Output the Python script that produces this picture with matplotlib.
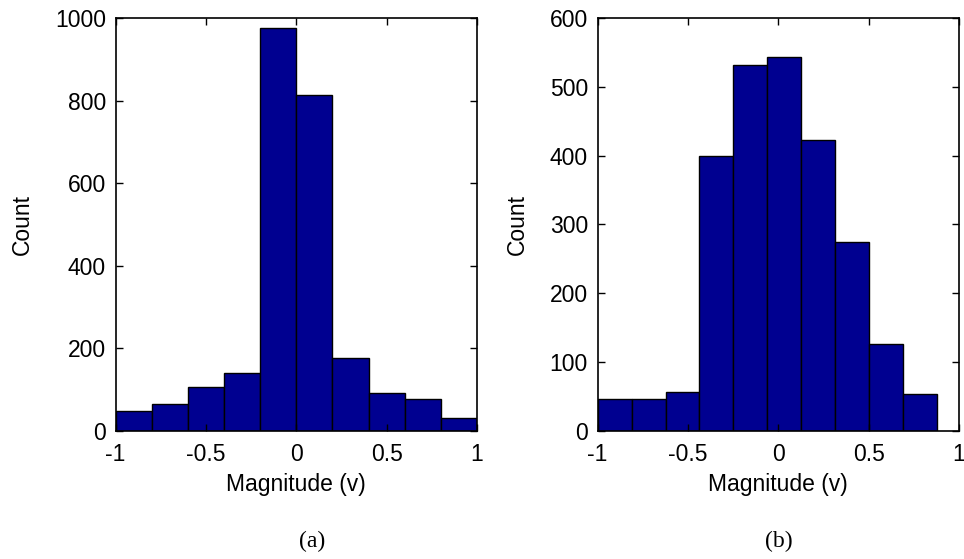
import numpy as np
import matplotlib
matplotlib.use("Agg")
import matplotlib.pyplot as plt

# Histogram counts per bin (10 equal bins each)
counts_a = [48, 64, 106, 140, 976, 815, 177, 92, 78, 30]
range_a = (-1.0, 1.0)
counts_b = [46, 46, 57, 400, 532, 543, 423, 275, 126, 54]
range_b = (-1.0, 0.878)

xticks = [-1, -0.5, 0, 0.5, 1]
xticklabels = ["-1", "-0.5", "0", "0.5", "1"]
yticks_a = [0, 200, 400, 600, 800, 1000]
yticks_b = [0, 100, 200, 300, 400, 500, 600]
captions = ["(a)", "(b)"]

BAR_COLOR = "#000090"
SANS = "Liberation Sans"
SERIF = "Liberation Serif"
FS = 16.5

fig = plt.figure(figsize=(9.64, 5.59), dpi=100)

panels = [
    (counts_a, range_a, yticks_a, [0.120, 0.2295, 0.3748, 0.7378], 0.544),
    (counts_b, range_b, yticks_b, [0.620, 0.2295, 0.3748, 0.7378], 0.5),
]

for (counts, rng, yticks, rect, cap_x), cap in zip(panels, captions):
    ax = fig.add_axes(rect)
    edges = np.linspace(rng[0], rng[1], len(counts) + 1)
    widths = np.diff(edges)
    ax.bar(edges[:-1], counts, width=widths, align="edge",
           color=BAR_COLOR, edgecolor="black", linewidth=1.0)
    ax.set_xlim(-1, 1)
    ax.set_ylim(yticks[0], yticks[-1])
    ax.set_xticks(xticks)
    ax.set_xticklabels(xticklabels, fontname=SANS, fontsize=FS)
    ax.set_yticks(yticks)
    ax.set_yticklabels([str(v) for v in yticks], fontname=SANS, fontsize=FS)
    ax.tick_params(direction="in", top=True, right=True, length=5,
                   width=1.0, color="black")
    ax.tick_params(axis="x", pad=9)
    ax.tick_params(axis="y", pad=7)
    for sp in ax.spines.values():
        sp.set_linewidth(1.2)
        sp.set_color("black")
    ax.set_xlabel("Magnitude (v)", fontname=SANS, fontsize=FS, labelpad=5)
    ax.set_ylabel("Count", fontname=SANS, fontsize=FS, labelpad=15)
    ax.text(cap_x, -0.269, cap, transform=ax.transAxes,
            ha="center", va="center", fontname=SERIF, fontsize=17)

fig.savefig("out.png", dpi=100)
